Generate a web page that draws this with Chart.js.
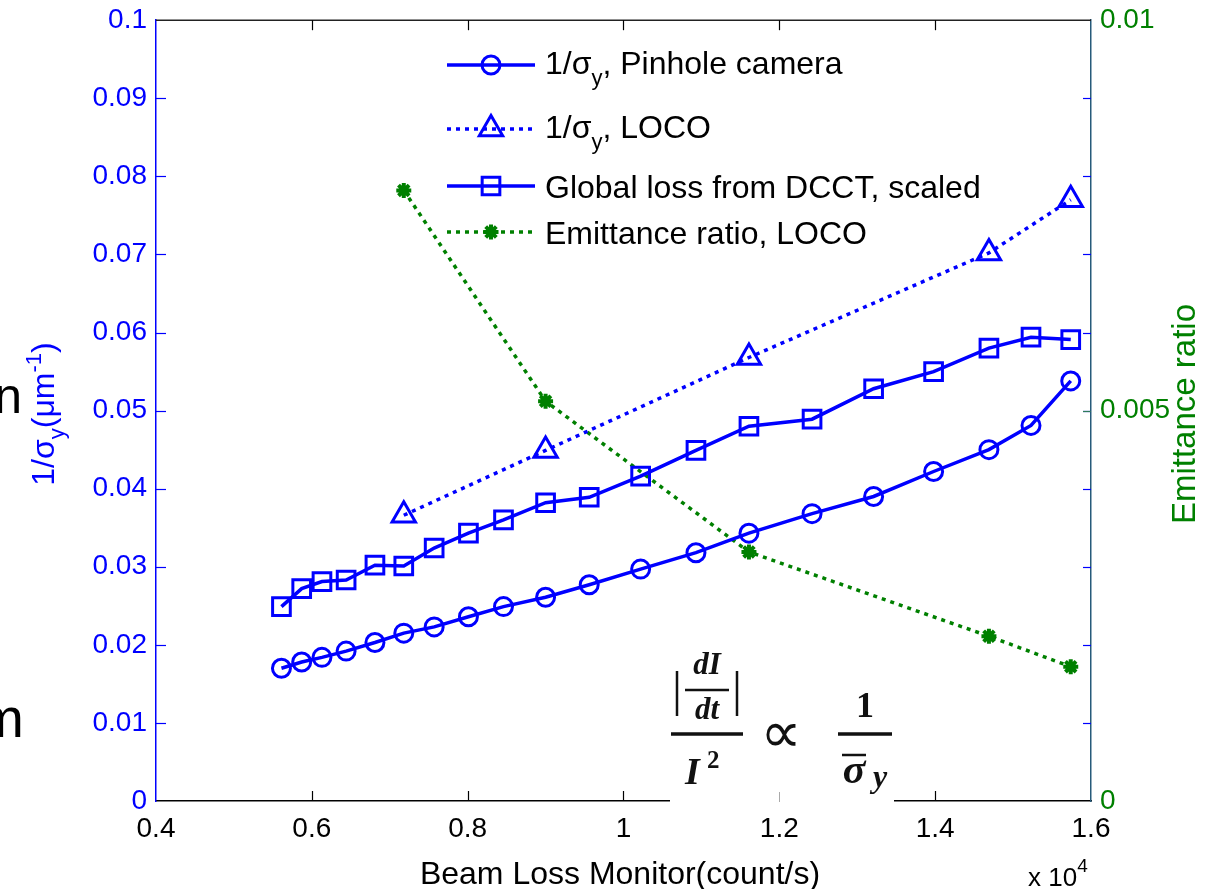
<!DOCTYPE html>
<html><head><meta charset="utf-8">
<script src="https://cdn.jsdelivr.net/npm/chart.js@4.4.0/dist/chart.umd.min.js"></script>
<style>html,body{margin:0;padding:0;background:#fff;overflow:hidden}canvas{display:block}</style>
</head><body>
<canvas id="c" width="1209" height="889"></canvas>
<script>
// ---- data (x in units of 10^4 count/s) ----
const beamLossMonitor = [0.561,0.587,0.613,0.644,0.681,0.718,0.757,0.801,0.846,0.900,0.956,1.022,1.093,1.161,1.242,1.321,1.398,1.469,1.523,1.574];
const pinholeInvSigma = [0.0170,0.0178,0.0184,0.0192,0.0203,0.0215,0.0223,0.0236,0.0249,0.0261,0.0277,0.0297,0.0318,0.0343,0.0368,0.0390,0.0422,0.0450,0.0481,0.0538];
const dcctGlobalLoss  = [0.0249,0.0272,0.0281,0.0283,0.0302,0.0301,0.0324,0.0343,0.0360,0.0382,0.0389,0.0416,0.0449,0.0480,0.0489,0.0528,0.0550,0.0580,0.0594,0.0591];
const locoBeamLoss    = [0.718,0.900,1.161,1.469,1.574];
const locoInvSigma    = [0.0366,0.0449,0.0568,0.0702,0.0770];
const emittanceRatio  = [0.00782,0.00512,0.00319,0.00211,0.00172];
const xTicks  = [0.4,0.6,0.8,1.0,1.2,1.4,1.6];
const yTicks  = [0,0.01,0.02,0.03,0.04,0.05,0.06,0.07,0.08,0.09,0.1];
const y2Ticks = [0,0.005,0.01];

const BLUE = '#0000ff', GREEN = '#008000', AXIS2 = '#265a7a';
const FF = '"Liberation Sans", Arial, Helvetica, sans-serif';
const SERIF = '"Liberation Serif", "DejaVu Serif", serif';

const pts = (xs, ys) => xs.map((x, i) => ({x, y: ys[i]}));
const fmt = v => String(Number(v.toFixed(4)));

function line(ctx, x1, y1, x2, y2) { ctx.beginPath(); ctx.moveTo(x1, y1); ctx.lineTo(x2, y2); ctx.stroke(); }

function richWidth(ctx, segs) {
  let w = 0;
  segs.forEach(s => { ctx.font = (s.style || '') + ' ' + s.size + 'px ' + (s.family || FF); w += ctx.measureText(s.t).width; });
  return w;
}
function drawRich(ctx, segs, x, y) {
  let cx = x;
  segs.forEach(s => {
    ctx.font = (s.style || '') + ' ' + s.size + 'px ' + (s.family || FF);
    ctx.fillText(s.t, cx, y + (s.dy || 0));
    cx += ctx.measureText(s.t).width;
  });
}

function marker(ctx, style, x, y, r, color, lw) {
  ctx.save();
  ctx.strokeStyle = color; ctx.fillStyle = color; ctx.lineWidth = lw; ctx.setLineDash([]);
  ctx.beginPath();
  if (style === 'circle') { ctx.arc(x, y, r, 0, Math.PI * 2); ctx.stroke(); }
  else if (style === 'rect') { const s = r * Math.SQRT1_2; ctx.rect(x - s, y - s, 2 * s, 2 * s); ctx.stroke(); }
  else if (style === 'triangle') {
    for (let k = 0; k < 3; k++) { const a = k * 2 * Math.PI / 3; const px = x + Math.sin(a) * r, py = y - Math.cos(a) * r; k ? ctx.lineTo(px, py) : ctx.moveTo(px, py); }
    ctx.closePath(); ctx.stroke();
  } else if (style === 'star') {
    ctx.moveTo(x - r, y); ctx.lineTo(x + r, y); ctx.moveTo(x, y - r); ctx.lineTo(x, y + r);
    const d = r * Math.SQRT1_2;
    ctx.moveTo(x - d, y - d); ctx.lineTo(x + d, y + d); ctx.moveTo(x - d, y + d); ctx.lineTo(x + d, y - d);
    ctx.stroke();
  }
  ctx.restore();
}

const legendRows = [
  {y: 65,  dash: [], color: BLUE, mk: 'circle', r: 9, base: 9,
   segs: [{t:'1/σ', size:32}, {t:'y', size:22, dy:11}, {t:', Pinhole camera', size:32}]},
  {y: 129, dash: [4,5], color: BLUE, mk: 'triangle', r: 13.5, base: 9,
   segs: [{t:'1/σ', size:32}, {t:'y', size:22, dy:11}, {t:', LOCO', size:32}]},
  {y: 186, dash: [], color: BLUE, mk: 'rect', r: 12.5, base: 12,
   segs: [{t:'Global loss from DCCT, scaled', size:32}]},
  {y: 232, dash: [4,5], color: GREEN, mk: 'star', r: 7.5, base: 12,
   segs: [{t:'Emittance ratio, LOCO', size:32}]}
];

const deco = {
  id: 'deco',
  afterDraw(chart) {
    const ctx = chart.ctx, a = chart.chartArea;
    const sx = chart.scales.x, sy = chart.scales.y, sy2 = chart.scales.y2;
    ctx.save();
    ctx.setLineDash([]);
    // top border
    ctx.strokeStyle = '#222'; ctx.lineWidth = 1.5;
    line(ctx, a.left, a.top, a.right, a.top);
    // x ticks (inward, bottom and top)
    ctx.strokeStyle = '#000'; ctx.lineWidth = 1.2;
    xTicks.forEach(v => {
      const px = Math.round(sx.getPixelForValue(v)) + 0.5;
      if (v > 0.41 && v < 1.59) { line(ctx, px, a.bottom, px, a.bottom - 10); line(ctx, px, a.top, px, a.top + 10); }
    });
    // left y ticks (inward) both sides
    ctx.strokeStyle = BLUE;
    yTicks.forEach(v => {
      const py = Math.round(sy.getPixelForValue(v)) + 0.5;
      if (v > 0.001 && v < 0.099) { line(ctx, a.left, py, a.left + 10, py); line(ctx, a.right, py, a.right - 8, py); }
    });
    ctx.strokeStyle = '#2e7a5a';
    y2Ticks.forEach(v => {
      const py = Math.round(sy2.getPixelForValue(v)) + 0.5;
      if (v > 0.0001 && v < 0.0099) line(ctx, a.right, py, a.right - 8, py);
    });

    // legend
    legendRows.forEach(r => {
      ctx.save();
      ctx.strokeStyle = r.color; ctx.lineWidth = 3.5; ctx.setLineDash(r.dash); ctx.lineCap = 'butt';
      line(ctx, 447, r.y, 535, r.y);
      ctx.restore();
      marker(ctx, r.mk, 491, r.y, r.r, r.color, r.mk === 'star' ? 4 : 3);
      ctx.fillStyle = '#000'; ctx.textAlign = 'left'; ctx.textBaseline = 'alphabetic';
      drawRich(ctx, r.segs, 545, r.y + r.base);
    });

    // axis titles
    ctx.fillStyle = '#000'; ctx.textBaseline = 'alphabetic'; ctx.textAlign = 'left';
    ctx.font = '32px ' + FF;
    let t = 'Beam Loss Monitor(count/s)';
    ctx.fillText(t, 620 - ctx.measureText(t).width / 2, 884);
    // x 10^4
    drawRich(ctx, [{t:'x 10', size:26}, {t:'4', size:19, dy:-14}], 1028, 886);

    // left y title (rotated)
    const ySegs = [{t:'1/σ', size:32}, {t:'y', size:22, dy:10}, {t:'(μm', size:32}, {t:'-1', size:22, dy:-13}, {t:')', size:32}];
    ctx.save();
    ctx.fillStyle = BLUE;
    ctx.translate(54, 414); ctx.rotate(-Math.PI / 2);
    drawRich(ctx, ySegs, -richWidth(ctx, ySegs) / 2, 0);
    ctx.restore();
    // right y title
    ctx.save();
    ctx.fillStyle = GREEN;
    ctx.translate(1195, 414); ctx.rotate(-Math.PI / 2);
    ctx.font = '33px ' + FF;
    t = 'Emittance ratio';
    ctx.fillText(t, -ctx.measureText(t).width / 2, 0);
    ctx.restore();

    // stray slide letters on the left edge
    ctx.fillStyle = '#000'; ctx.textAlign = 'right';
    ctx.font = '50px ' + FF; ctx.fillText('n', 22, 413);
    ctx.font = '56px ' + FF; ctx.fillText('m', 24, 737);
    ctx.textAlign = 'left';

    // equation image
    ctx.fillStyle = '#fff';
    ctx.fillRect(670, 646, 224, 160);
    ctx.strokeStyle = '#aaa'; ctx.lineWidth = 1;
    const p12 = Math.round(sx.getPixelForValue(1.2)) + 0.5;
    line(ctx, p12, 792, p12, 802);
    ctx.fillStyle = '#111'; ctx.strokeStyle = '#111';
    ctx.textAlign = 'center'; ctx.textBaseline = 'alphabetic';
    ctx.font = 'italic bold 31px ' + SERIF; ctx.fillText('dI', 707, 674);
    ctx.fillText('dt', 707, 719);
    ctx.lineWidth = 2.5; line(ctx, 685, 690, 729, 690);
    line(ctx, 677, 671, 677, 716); line(ctx, 737, 671, 737, 716);
    ctx.lineWidth = 3.5; line(ctx, 671, 734, 743, 734);
    ctx.textAlign = 'left';
    ctx.font = 'italic bold 38px ' + SERIF; ctx.fillText('I', 685, 784);
    ctx.font = 'bold 25px ' + SERIF; ctx.fillText('2', 707, 768);
    ctx.textAlign = 'center';
    ctx.font = '58px "DejaVu Sans", sans-serif'; ctx.fillText('∝', 781, 752);
    ctx.font = 'bold 36px ' + SERIF; ctx.fillText('1', 865, 717);
    ctx.lineWidth = 3.5; line(ctx, 838, 734, 892, 734);
    ctx.font = 'italic bold 42px ' + SERIF; ctx.fillText('σ', 854, 783);
    ctx.lineWidth = 2.5; line(ctx, 842, 755, 866, 755);
    ctx.font = 'italic bold 32px ' + SERIF; ctx.fillText('y', 880, 787);
    ctx.restore();
  }
};

new Chart(document.getElementById('c'), {
  type: 'line',
  data: {
    datasets: [
      {label: '1/σy, Pinhole camera', data: pts(beamLossMonitor, pinholeInvSigma), yAxisID: 'y',
       borderColor: BLUE, borderWidth: 3.5, pointStyle: 'circle', pointRadius: 9, pointBorderWidth: 3,
       pointBorderColor: BLUE, pointBackgroundColor: 'rgba(0,0,0,0)', tension: 0},
      {label: '1/σy, LOCO', data: pts(locoBeamLoss, locoInvSigma), yAxisID: 'y',
       borderColor: BLUE, borderWidth: 3.5, borderDash: [4,5], pointStyle: 'triangle', pointRadius: 13.5, pointBorderWidth: 3,
       pointBorderColor: BLUE, pointBackgroundColor: 'rgba(0,0,0,0)', tension: 0},
      {label: 'Global loss from DCCT, scaled', data: pts(beamLossMonitor, dcctGlobalLoss), yAxisID: 'y',
       borderColor: BLUE, borderWidth: 3.5, pointStyle: 'rect', pointRadius: 12.5, pointBorderWidth: 3,
       pointBorderColor: BLUE, pointBackgroundColor: 'rgba(0,0,0,0)', tension: 0},
      {label: 'Emittance ratio, LOCO', data: pts(locoBeamLoss, emittanceRatio), yAxisID: 'y2',
       borderColor: GREEN, borderWidth: 3.5, borderDash: [4,5], pointStyle: 'star', pointRadius: 7.5, pointBorderWidth: 4,
       pointBorderColor: GREEN, pointBackgroundColor: GREEN, tension: 0}
    ]
  },
  options: {
    responsive: false, animation: false, devicePixelRatio: 1, events: [],
    layout: {padding: {top: 20, left: 0, right: 0, bottom: 0}},
    plugins: {legend: {display: false}, tooltip: {enabled: false}},
    scales: {
      x: {type: 'linear', position: 'bottom', min: 0.4, max: 1.6,
          afterFit: s => { s.height = 88; },
          afterBuildTicks: s => { s.ticks = xTicks.map(v => ({value: v})); },
          ticks: {color: '#000', font: {size: 28, family: FF}, padding: 11, maxRotation: 0, autoSkip: false,
                  callback: v => fmt(v)},
          grid: {display: true, drawOnChartArea: false, drawTicks: false},
          border: {display: true, color: '#000', width: 1.5}},
      y: {type: 'linear', position: 'left', min: 0, max: 0.1,
          afterFit: s => { s.width = 156; },
          afterBuildTicks: s => { s.ticks = yTicks.map(v => ({value: v})); },
          ticks: {color: BLUE, font: {size: 28, family: FF, lineHeight: 0.8}, padding: 9, autoSkip: false, callback: v => fmt(v)},
          grid: {display: true, drawOnChartArea: false, drawTicks: false},
          border: {display: true, color: BLUE, width: 1.5}},
      y2: {type: 'linear', position: 'right', min: 0, max: 0.01,
          afterFit: s => { s.width = 118; },
          afterBuildTicks: s => { s.ticks = y2Ticks.map(v => ({value: v})); },
          ticks: {color: GREEN, font: {size: 28, family: FF, lineHeight: 0.8}, padding: 9, autoSkip: false, callback: v => fmt(v)},
          grid: {display: true, drawOnChartArea: false, drawTicks: false},
          border: {display: true, color: AXIS2, width: 1.5}}
    }
  },
  plugins: [deco]
});
</script>
</body></html>
